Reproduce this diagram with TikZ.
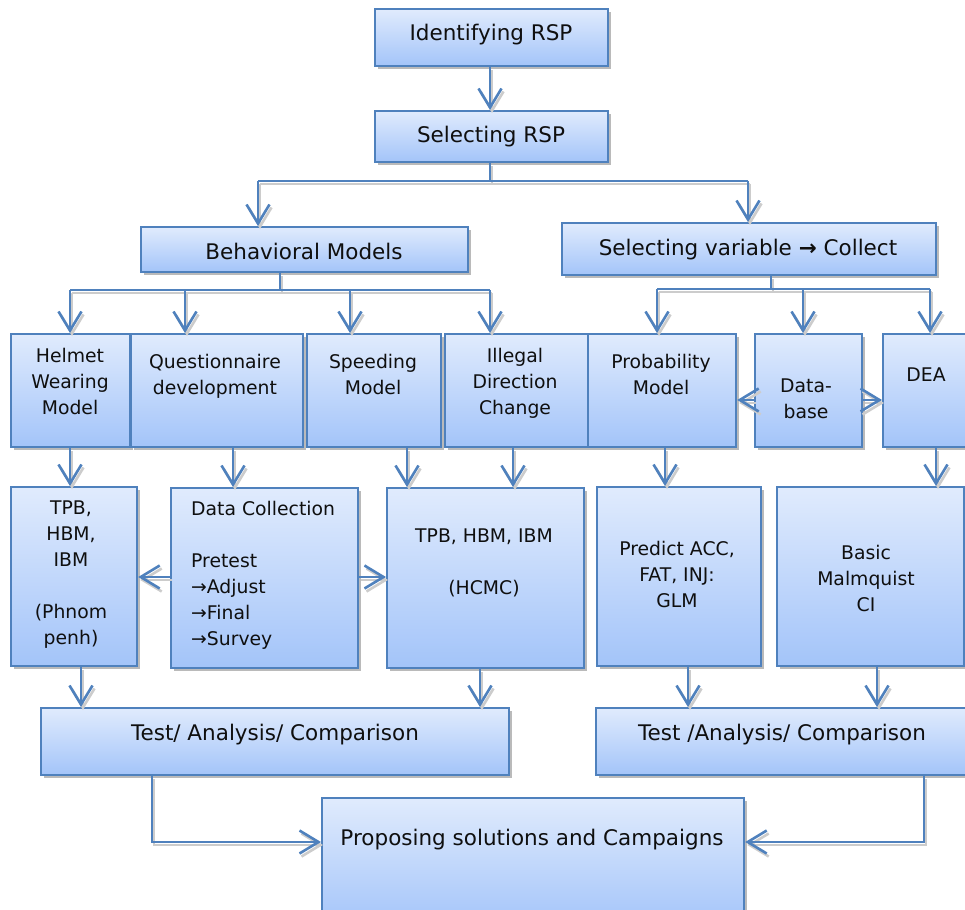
\documentclass[tikz,border=0pt]{standalone}
\usepackage{fontspec}
\setmainfont{DejaVu Sans}
\usetikzlibrary{arrows.meta,shadows}
\definecolor{edge}{RGB}{79,129,189}
\definecolor{ftop}{RGB}{224,235,253}
\definecolor{fbot}{RGB}{163,196,249}
\definecolor{ink}{RGB}{15,15,15}
\begin{document}
\begin{tikzpicture}[x=1pt,y=-1pt,
  box/.style={draw=edge, line width=2.2pt, top color=ftop, bottom color=fbot,
    anchor=north west, inner sep=0pt, minimum width=#1},
  box/.default=10pt,
  shade box/.style={drop shadow={shadow xshift=2.5pt, shadow yshift=-3pt, fill=black!27, opacity=1}},
  txt/.style={font=\fontsize{18.8}{26}\selectfont, align=center, anchor=north, inner sep=0pt, text=ink},
  big/.style={font=\fontsize{21.5}{26}\selectfont},
  link/.style={draw=edge, line width=2.6pt,
    preaction={draw=black!20, line width=2.6pt, transform canvas={xshift=2pt,yshift=-3pt}}},
  arr/.style={link, -{Straight Barb[length=19pt,width=23pt]}}
]
\useasboundingbox (0,0) rectangle (965,909);
\clip (0,0) rectangle (965,909);

% ---- boxes (top-left corner, width, height) ----
\newcommand{\mkbox}[5]{\node[box=#4pt, minimum height=#5pt, shade box] (#1) at (#2,#3) {};}
\mkbox{ident}{374}{8}{233}{57}
\mkbox{select}{374}{110}{233}{51}
\mkbox{behav}{140}{226}{327}{45}
\mkbox{selvar}{561}{222}{374}{52}
\mkbox{helmet}{10}{333}{119}{113}
\mkbox{quest}{130}{333}{172}{113}
\mkbox{speed}{306}{333}{134}{113}
\mkbox{illegal}{444}{333}{143}{113}
\mkbox{prob}{587}{333}{148}{113}
\mkbox{dbase}{754}{333}{107}{113}
\mkbox{dea}{882}{333}{110}{113}
\mkbox{tpbA}{10}{486}{126}{179}
\mkbox{datac}{170}{487}{187}{180}
\mkbox{tpbB}{386}{487}{197}{180}
\mkbox{pred}{596}{486}{164}{179}
\mkbox{basic}{776}{486}{187}{179}
\mkbox{testA}{40}{707}{468}{67}
\mkbox{testB}{595}{707}{390}{67}
\mkbox{prop}{321}{797}{422}{130}

% ---- texts ----
\node[txt,big] (ident-t) at (491,24) {Identifying RSP};
\node[txt,big] (select-t) at (491,126) {Selecting RSP};
\node[txt,big] (behav-t) at (304,243) {Behavioral Models};
\node[txt,big] (selvar-t) at (748,239) {Selecting variable \textbf{→} Collect};
\node[txt] (helmet-t) at (70,348) {Helmet\\Wearing\\Model};
\node[txt] (quest-t) at (215,354) {Questionnaire\\development};
\node[txt] (speed-t) at (373,354) {Speeding\\Model};
\node[txt] (illegal-t) at (515,348) {Illegal\\Direction\\Change};
\node[txt] (prob-t) at (661,354) {Probability\\Model};
\node[txt] (dbase-t) at (806,379) {Data-\\base};
\node[txt] (dea-t) at (926,368) {DEA};
\node[txt] (tpbA-t) at (71,501) {TPB,\\HBM,\\IBM\\[26pt](Phnom\\penh)};
\node[txt, align=left, anchor=north west] (datac-t) at (191,501) {Data Collection\\[26pt]Pretest\\→Adjust\\→Final\\→Survey};
\node[txt] (tpbB-t) at (484,529) {TPB, HBM, IBM\\[26pt](HCMC)};
\node[txt] (pred-t) at (677,541) {Predict ACC,\\FAT, INJ:\\GLM};
\node[txt] (basic-t) at (866,545) {Basic\\Malmquist\\CI};
\node[txt,big] (testA-t) at (275,724) {Test/ Analysis/ Comparison};
\node[txt,big] (testB-t) at (782,724) {Test /Analysis/ Comparison};
\node[txt,big] (prop-t) at (532,829) {Proposing solutions and Campaigns};

% ---- column positions of the connectors ----
\coordinate (c70) at (70,0);
\coordinate (c185) at (185,0);
\coordinate (c350) at (350,0);
\coordinate (c490) at (490,0);
\coordinate (c258) at (258,0);
\coordinate (c748) at (748,0);
\coordinate (c280) at (280,0);
\coordinate (c771) at (771,0);
\coordinate (c657) at (657,0);
\coordinate (c803) at (803,0);
\coordinate (c930) at (930,0);
\coordinate (c233) at (233,0);
\coordinate (c407) at (407,0);
\coordinate (c513) at (513,0);
\coordinate (c665) at (665,0);
\coordinate (c936) at (936,0);
\coordinate (c81) at (81,0);
\coordinate (c480) at (480,0);
\coordinate (c688) at (688,0);
\coordinate (c877) at (877,0);
\coordinate (c152) at (152,0);
\coordinate (c924) at (924,0);
\coordinate (busA) at (0,181);
\coordinate (busB) at (0,290);
\coordinate (busC) at (0,289);
\coordinate (rowD) at (0,400);
\coordinate (rowC) at (0,577);
\coordinate (rowP) at (0,842);

% ---- connectors ----
\draw[arr] (ident.south -| c490) -- (select.north -| c490);
\draw[link] (select.south -| c490) -- (busA -| c490);
\draw[link] (busA -| c258) -- (busA -| c748);
\draw[arr] (busA -| c258) -- (behav.north -| c258);
\draw[arr] (busA -| c748) -- (selvar.north -| c748);

\draw[link] (behav.south -| c280) -- (busB -| c280);
\draw[link] (busB -| c70) -- (busB -| c490);
\draw[arr] (busB -| c70) -- (helmet.north -| c70);
\draw[arr] (busB -| c185) -- (quest.north -| c185);
\draw[arr] (busB -| c350) -- (speed.north -| c350);
\draw[arr] (busB -| c490) -- (illegal.north -| c490);

\draw[link] (selvar.south -| c771) -- (busC -| c771);
\draw[link] (busC -| c657) -- (busC -| c930);
\draw[arr] (busC -| c657) -- (prob.north -| c657);
\draw[arr] (busC -| c803) -- (dbase.north -| c803);
\draw[arr] (busC -| c930) -- (dea.north -| c930);

\draw[arr] (dbase.west |- rowD) -- (prob.east |- rowD);
\draw[arr] (dbase.east |- rowD) -- (dea.west |- rowD);

\draw[arr] (helmet.south -| c70) -- (tpbA.north -| c70);
\draw[arr] (quest.south -| c233) -- (datac.north -| c233);
\draw[arr] (speed.south -| c407) -- (tpbB.north -| c407);
\draw[arr] (illegal.south -| c513) -- (tpbB.north -| c513);
\draw[arr] (prob.south -| c665) -- (pred.north -| c665);
\draw[arr] (dea.south -| c936) -- (basic.north -| c936);

\draw[arr] (datac.west |- rowC) -- (tpbA.east |- rowC);
\draw[arr] (datac.east |- rowC) -- (tpbB.west |- rowC);

\draw[arr] (tpbA.south -| c81) -- (testA.north -| c81);
\draw[arr] (tpbB.south -| c480) -- (testA.north -| c480);
\draw[arr] (pred.south -| c688) -- (testB.north -| c688);
\draw[arr] (basic.south -| c877) -- (testB.north -| c877);

\draw[arr] (testA.south -| c152) -- (rowP -| c152) -- (prop.west |- rowP);
\draw[arr] (testB.south -| c924) -- (rowP -| c924) -- (prop.east |- rowP);
\end{tikzpicture}
\end{document}
